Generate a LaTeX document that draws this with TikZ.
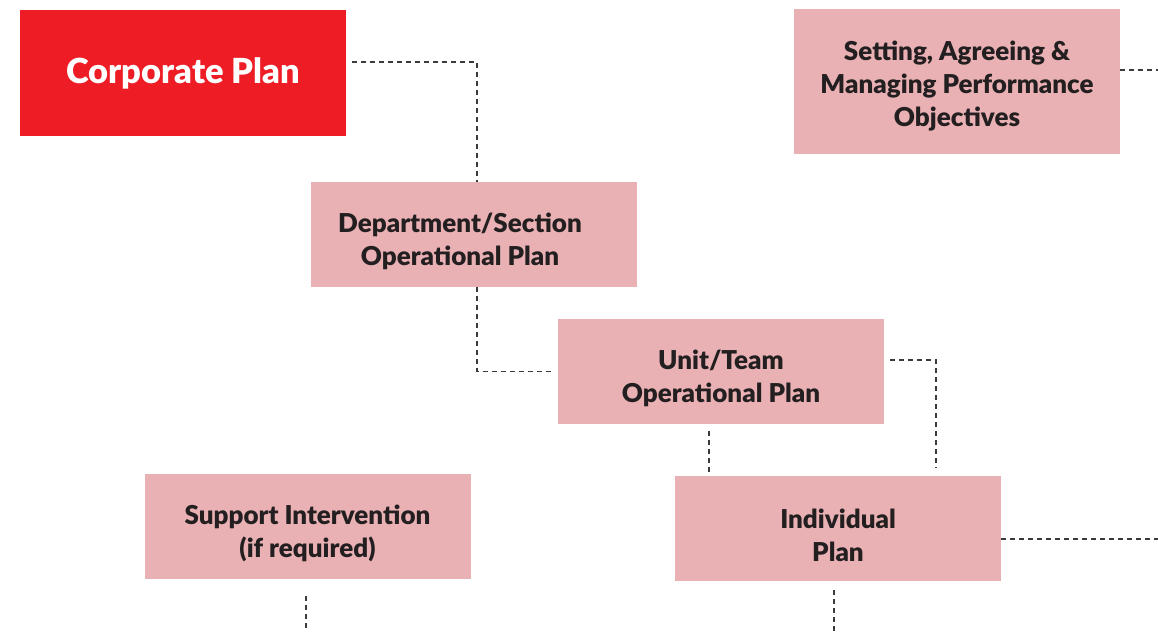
\documentclass[tikz,border=0pt]{standalone}
\usepackage{fontspec}
\setmainfont{Lato}[BoldFont={Lato Black}]
\usetikzlibrary{calc}
\definecolor{planred}{HTML}{EE1D25}
\definecolor{planpink}{HTML}{E9B1B4}
\definecolor{plantext}{HTML}{231F20}
\definecolor{planline}{HTML}{3A3A3A}
\tikzset{
  planbox/.style={fill=planpink, minimum width=326pt, minimum height=105pt, inner sep=0pt,
    align=center, text=plantext, font=\fontsize{26}{33}\selectfont\bfseries, text height=66pt},
  plantxt/.style={align=center, text=plantext, font=\fontsize{26}{33}\selectfont\bfseries, text height=66pt},
  planlink/.style={draw=planline, line width=1.3pt, dash pattern=on 5pt off 4pt}
}

\begin{document}
\begin{tikzpicture}[x=1pt, y=-1pt]
			%%%%% START %%%%%
			\useasboundingbox (0, 0) rectangle (1158, 632);
			
			\node[fill=planred, minimum width=326pt, minimum height=126pt, inner sep=0pt,
			  text=white, font=\fontsize{34.5}{40}\selectfont\bfseries] (corp) at (183, 73) {Corporate Plan};
			\node[planbox, minimum height=145pt, text height=95pt] (setting) at (957, 81.5) {Setting, Agreeing \&\\Managing Performance\\Objectives};
			
			\node[planbox] (dept) at (474, 234.5) {};
			\node[plantxt] (depttxt) at (460, 234.5) {Department/Section\\Operational Plan};
			
			\node[planbox] (unit) at (721, 371.5) {Unit/Team\\Operational Plan};
			\node[planbox] (support) at (307.5, 526.5) {Support Intervention\\(if required)};
			\node[planbox] (indiv) at (838, 528.5) {Individual\\Plan};
			
			\coordinate (settingout) at (1158, 70);
			\coordinate (indivout) at (1158, 539);
			\coordinate (supportout) at (306, 632);
			\coordinate (indivdown) at (834, 632);
			
			\draw[planlink] ([xshift=6pt, yshift=11pt]corp.east) -| ([xshift=3pt]dept.north);
			\draw[planlink] ([xshift=3pt]dept.south) |- ([xshift=-5pt]unit.west);
			\draw[planlink] ([xshift=6pt, yshift=11.5pt]unit.east) -| ([xshift=98pt, yshift=8pt]indiv.north);
			\draw[planlink] ([xshift=-12pt, yshift=-7pt]unit.south) -- ([xshift=-129pt]indiv.north);
			\draw[planlink] ([yshift=11.5pt]setting.east) -- (settingout);
			\draw[planlink] ([yshift=-10.5pt]indiv.east) -- (indivout);
			\draw[planlink] ([xshift=-1.5pt, yshift=-17pt]support.south) -- (supportout);
			\draw[planlink] ([xshift=-4pt, yshift=-9pt]indiv.south) -- (indivdown);
			
			%%%%% END %%%%%
\end{tikzpicture}
\end{document}
